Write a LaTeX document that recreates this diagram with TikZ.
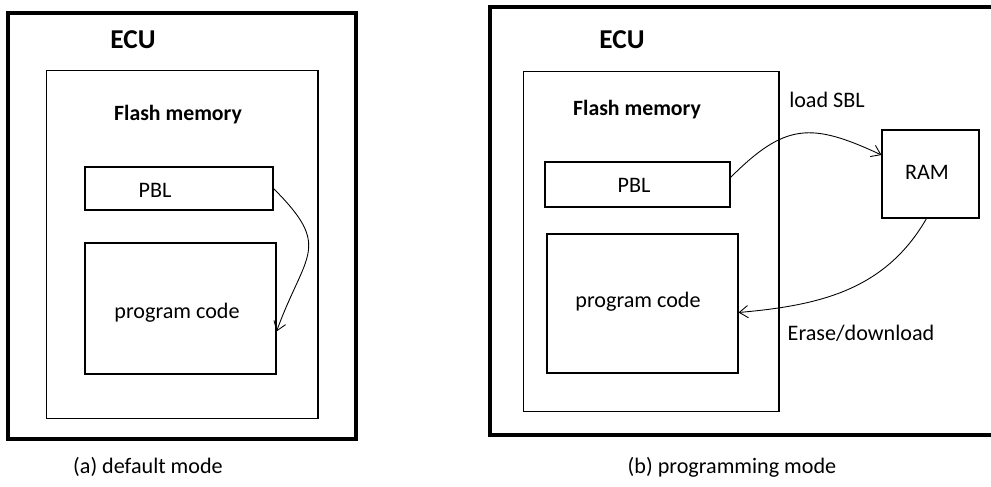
\documentclass[tikz,border=0pt]{standalone}
\usepackage{fontspec}
\setmainfont{Carlito}
\usetikzlibrary{arrows.meta}

\tikzset{
    ecubox/.style={draw, line width=2.2pt, inner sep=0pt},
    membox/.style={draw, line width=0.6pt, inner sep=0pt},
    txt/.style={font=\fontsize{12.6}{15}\selectfont},
    head/.style={font=\bfseries\fontsize{12.4}{15}\selectfont},
    ecutxt/.style={font=\bfseries\fontsize{15.5}{18}\selectfont},
    flow/.style={line width=0.5pt, ->}
}

\begin{document}
\begin{tikzpicture}[x=0.02cm, y=-0.02cm, >={Straight Barb[length=5pt,width=7pt]}]
        \useasboundingbox (0,0) rectangle (991,487);

        % (a) default mode
        \node[ecubox, minimum width=6.96cm, minimum height=8.52cm] (ecuA) at (182,226) {};
        \node[membox, minimum width=5.44cm, minimum height=6.98cm] (flashA) at (182,244.5) {};
        \node[membox, minimum width=3.76cm, minimum height=0.86cm] (pblA) at (179,188.5) {};
        \node[membox, minimum width=3.82cm, minimum height=2.62cm] (codeA) at (180.5,308.5) {};
        \node[ecutxt] (ecuAtxt) at (133,40) {ECU};
        \node[head] (flashAtxt) at (178,115) {Flash memory};
        \node[txt] (pblAtxt) at (155,190) {PBL};
        \node[txt] (codeAtxt) at (177,313) {program code};
        \node[txt] (capA) at (148,467) {(a) default mode};

        \draw[flow] (pblA.east) to[out=-45,in=70,looseness=1.5] ([yshift=-0.46cm]codeA.east);

        % (b) programming mode
        \node[ecubox, minimum width=10.2cm, minimum height=8.56cm] (ecuB) at (745,221) {};
        \node[membox, minimum width=5.12cm, minimum height=6.82cm] (flashB) at (651,241.5) {};
        \node[membox, minimum width=3.70cm, minimum height=0.90cm] (pblB) at (637.5,184.5) {};
        \node[membox, minimum width=3.82cm, minimum height=2.78cm] (codeB) at (642.5,303.5) {};
        \node[membox, minimum width=1.94cm, minimum height=1.76cm] (ram) at (930.5,174) {};
        \node[ecutxt] (ecuBtxt) at (622,40) {ECU};
        \node[head] (flashBtxt) at (637,110) {Flash memory};
        \node[txt] (pblBtxt) at (634,185) {PBL};
        \node[txt] (codeBtxt) at (638,302) {program code};
        \node[txt] (ramtxt) at (927,172) {RAM};
        \node[txt] (loadtxt) at (827,100) {load SBL};
        \node[txt] (erasetxt) at (861,333) {Erase/download};
        \node[txt] (capB) at (732,467) {(b) programming mode};

        \draw[flow] ([yshift=0.14cm]pblB.east) to[out=45,in=155,looseness=1.3] ([yshift=0.38cm]ram.west);
        \draw[flow] ([xshift=-0.08cm]ram.south) to[out=-120,in=5] ([yshift=-0.18cm]codeB.east);
    \end{tikzpicture}
\end{document}
